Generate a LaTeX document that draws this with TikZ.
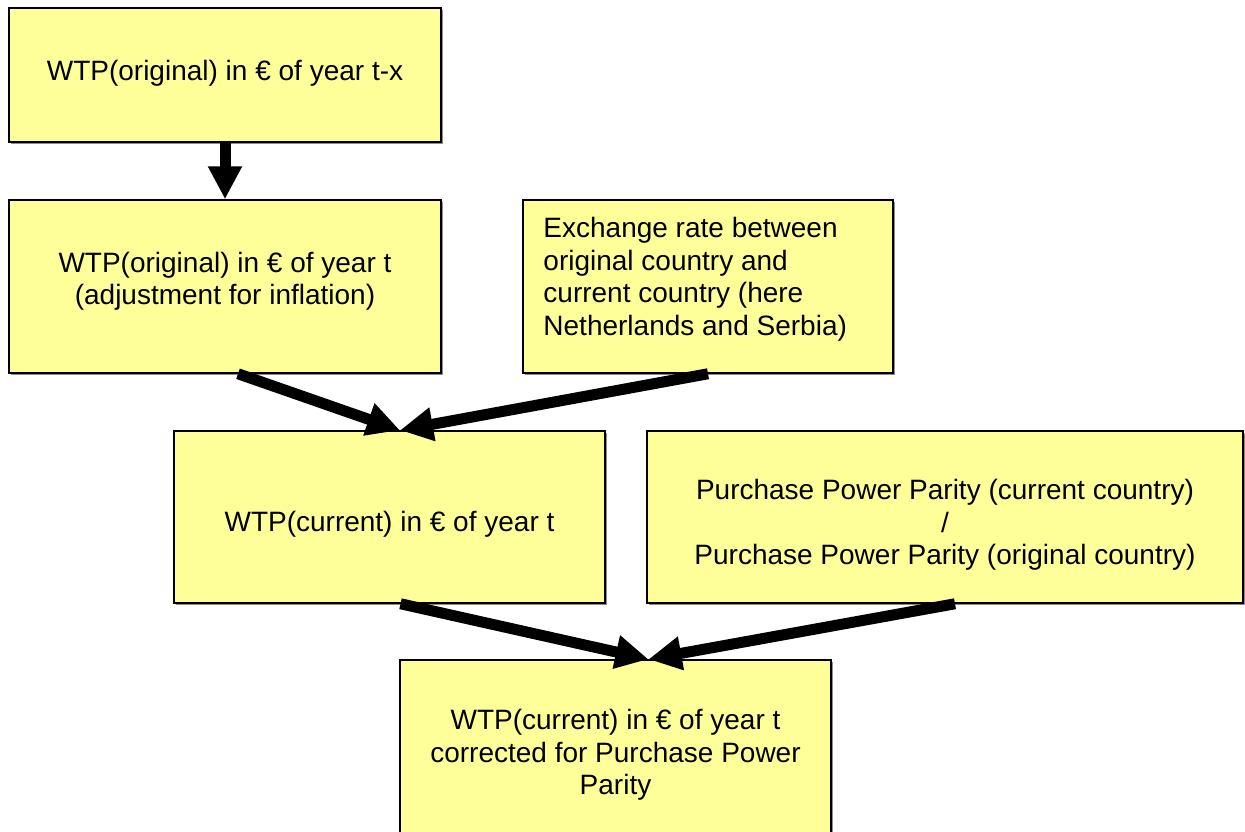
\documentclass[tikz,border=0pt]{standalone}
\usepackage{fontspec}
\setmainfont{Liberation Sans}
\usetikzlibrary{arrows.meta,shadows}
\begin{document}
\begin{tikzpicture}[x=1pt,y=-1pt,
  box/.style={draw=black, line width=1.5pt, fill=boxyellow, rectangle, inner sep=0pt,
    font=\fontsize{28}{32.5}\selectfont, align=center,
    drop shadow={shadow xshift=2pt, shadow yshift=-2pt, fill=black!45, opacity=1}},
  txt/.style={inner sep=0pt, font=\fontsize{28}{32.5}\selectfont},
  flow/.style={line width=11pt, -{Triangle[length=33pt,width=32pt]}}]
\definecolor{boxyellow}{HTML}{FFFF99}
\useasboundingbox (0,0) rectangle (1245,831);
\node[box, minimum width=432pt, minimum height=134pt] (b1) at (225,75) {};
\node[txt] (t1) at ([yshift=2pt]b1.center) {WTP(original) in € of year t-x};
\node[box, minimum width=432pt, minimum height=173pt] (b2) at (225,286.5) {};
\node[txt, align=center] (t2) at ([yshift=5pt]b2.center) {WTP(original) in € of year t\\(adjustment for inflation)};
\node[box, minimum width=370pt, minimum height=173pt] (b3) at (708,286.5) {};
\node[txt, anchor=north west, align=left] (t3) at ([xshift=21pt, yshift=-18pt]b3.north west)
  {Exchange rate between\\original country and\\current country (here\\Netherlands and Serbia)};
\node[box, minimum width=431pt, minimum height=172pt] (b4) at (389.5,517) {};
\node[txt] (t4) at ([yshift=-7pt]b4.center) {WTP(current) in € of year t};
\node[box, minimum width=596pt, minimum height=172pt] (b5) at (945,517) {};
\node[txt, align=center] (t5) at ([yshift=-8pt]b5.center) {Purchase Power Parity (current country)\\/\\Purchase Power Parity (original country)};
\node[box, minimum width=431pt, minimum height=184pt] (b6) at (615.5,752) {};
\node[txt, align=center] (t6) at ([yshift=-3pt]b6.center) {WTP(current) in € of year t\\corrected for Purchase Power\\Parity};
\draw[flow] (b1.south) -- (b2.north);
\draw[flow] ([xshift=13pt]b2.south) -- ([xshift=10.5pt]b4.north);
\draw[flow] (b3.south) -- ([xshift=10.5pt]b4.north);
\draw[flow] ([xshift=11pt]b4.south) -- ([xshift=33pt]b6.north);
\draw[flow] ([xshift=10pt]b5.south) -- ([xshift=33pt]b6.north);
\end{tikzpicture}
\end{document}
